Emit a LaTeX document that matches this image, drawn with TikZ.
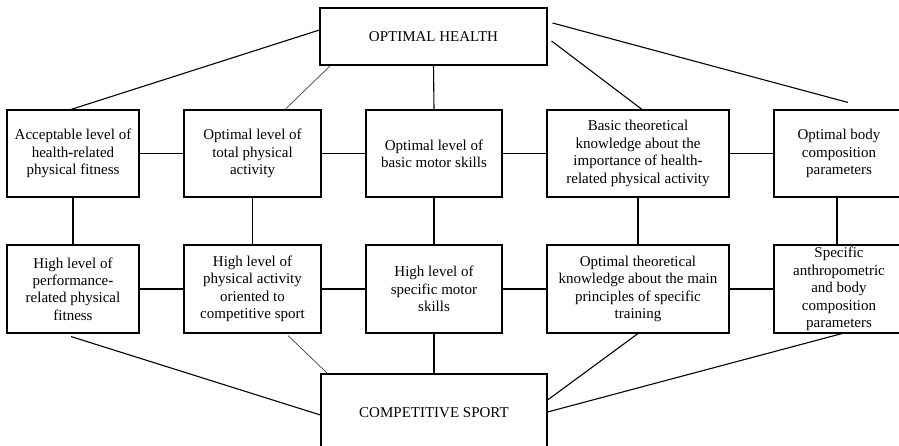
\documentclass[tikz,border=0pt]{standalone}
\usepackage{fontspec}
\setmainfont{Liberation Serif}
\begin{document}
\begin{tikzpicture}[x=1pt,y=-1pt,
  box/.style={draw,line width=1.1pt,rectangle,inner sep=0pt,align=center,
    font=\fontsize{15}{17.4}\selectfont},
  link/.style={line width=1.1pt},
  thin/.style={line width=0.7pt,black!75}]
\useasboundingbox (0,0) rectangle (899,446);
\clip (0,0) rectangle (899,446);
% top and bottom
\node[box,minimum width=227pt,minimum height=57pt] (top) at (433.5,36.5) {OPTIMAL HEALTH};
\node[box,minimum width=226pt,minimum height=78pt] (bot) at (434,413) {COMPETITIVE SPORT};
% row 1
\node[box,minimum width=132pt,minimum height=87pt] (h1) at (73,153.5) {Acceptable level of\\health{\bfseries -}related\\physical fitness};
\node[box,minimum width=137pt,minimum height=87pt] (h2) at (252.5,153.5) {Optimal level of\\total physical\\activity};
\node[box,minimum width=136pt,minimum height=87pt] (h3) at (434,153.5) {Optimal level of\\basic motor skills};
\node[box,minimum width=182pt,minimum height=87pt] (h4) at (638,153.5) {Basic theoretical\\knowledge about the\\importance of health{\bfseries -}\\related physical activity};
\node[box,minimum width=130pt,minimum height=87pt] (h5) at (839,153.5) {Optimal body\\composition\\parameters};
% row 2
\node[box,minimum width=132pt,minimum height=88pt] (c1) at (73,289) {High level of\\performance{\bfseries -}\\related physical\\fitness};
\node[box,minimum width=137pt,minimum height=88pt] (c2) at (252.5,289) {High level of\\physical activity\\oriented to\\competitive sport};
\node[box,minimum width=136pt,minimum height=88pt] (c3) at (434,289) {High level of\\specific motor\\skills};
\node[box,minimum width=182pt,minimum height=88pt] (c4) at (638,289) {Optimal theoretical\\knowledge about the main\\principles of specific\\training};
\node[box,minimum width=130pt,minimum height=88pt] (c5) at (839,289) {Specific\\anthropometric\\and body\\composition\\parameters};
% top links
\draw[link] ([yshift=6.5pt]top.west) -- ([xshift=-2pt]h1.north);
\draw[thin] ([xshift=11pt]top.south west) -- ([xshift=32.5pt]h2.north);
\draw[link] (top.south) -- (h3.north);
\draw[link] ([xshift=4pt,yshift=-4.5pt]top.east) -- ([xshift=4pt]h4.north);
\draw[link] ([xshift=5pt,yshift=13.5pt]top.east) -- ([xshift=9pt,yshift=7pt]h5.north);
% horizontal links
\draw[link] (h1) -- (h2);
\draw[link] (h2) -- (h3);
\draw[link] (h3) -- (h4);
\draw[link] (h4) -- (h5.west);
\draw[link] (c1) -- (c2);
\draw[link] (c2) -- (c3);
\draw[link] (c3) -- (c4);
\draw[link] (c4) -- (c5.west);
% vertical links
\draw[link] (h1.south) -- (c1.north);
\draw[link] (h2.south) -- (c2.north);
\draw[link] (h3.south) -- (c3.north);
\draw[link] (h4.south) -- (c4.north);
\draw[link] ([xshift=-2pt]h5.south) -- ([xshift=-2pt]c5.north);
% bottom links
\draw[link] ([xshift=-2pt,yshift=-3pt]c1.south) -- ([yshift=-2pt]bot.west);
\draw[thin] ([xshift=35.5pt,yshift=-2pt]c2.south) -- ([xshift=7pt]bot.north west);
\draw[link] (c3.south) -- (bot.north);
\draw[link] (c4.south) -- ([yshift=13pt]bot.east);
\draw[link] ([xshift=3pt]c5.south) -- ([yshift=1pt]bot.east);
\end{tikzpicture}
\end{document}
